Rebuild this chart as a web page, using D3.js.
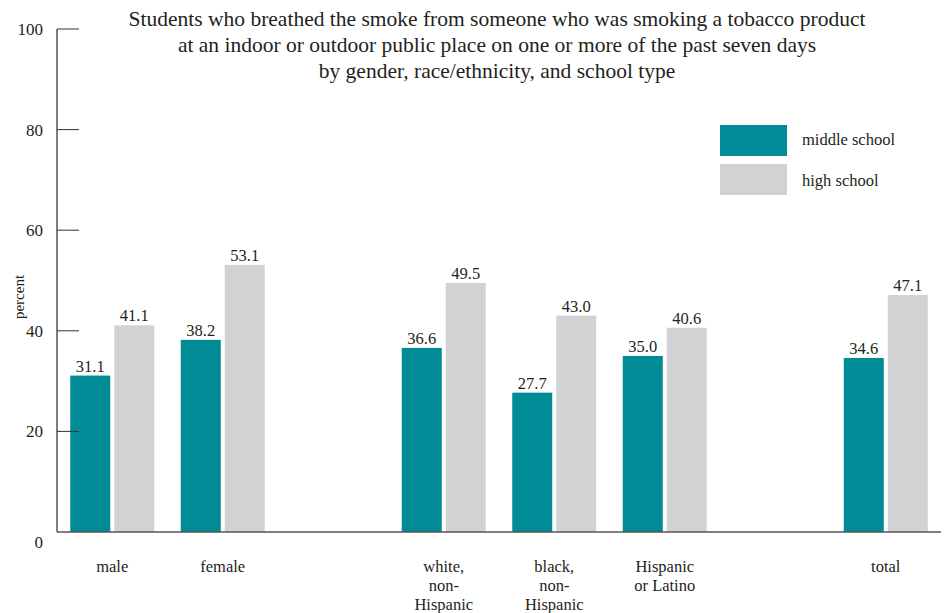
<!DOCTYPE html>
<html><head><meta charset="utf-8">
<script src="https://cdn.jsdelivr.net/npm/d3@7"></script>
<style>
body{margin:0;background:#fff;}
text{font-family:"Liberation Serif","DejaVu Serif",serif;fill:#231f20;}
</style></head>
<body><svg id="c" width="946" height="613"></svg>
<script>
const categories = ["male","female","","white, non- Hispanic","black, non- Hispanic","Hispanic or Latino"," ","total"];
const categoryLines = [["male"],["female"],[],["white,","non-","Hispanic"],["black,","non-","Hispanic"],["Hispanic","or Latino"],[],["total"]];
const middleSchool = [31.1, 38.2, null, 36.6, 27.7, 35.0, null, 34.6];
const highSchool = [41.1, 53.1, null, 49.5, 43.0, 40.6, null, 47.1];
const seriesNames = ["middle school","high school"];
const yTicks = [0,20,40,60,80,100];
const titleLines = ["Students who breathed the smoke from someone who was smoking a tobacco product",
  "at an indoor or outdoor public place on one or more of the past seven days",
  "by gender, race/ethnicity, and school type"];

const colors = ["#008b96","#d1d2d4"];
const svg = d3.select("#c");
const x0 = 57, x1 = 941, yBase = 532, yTop = 29;
const x = d3.scaleBand().domain(categories).range([x0,x1]).paddingInner(0).paddingOuter(0);
const y = d3.scaleLinear().domain([0,100]).range([yBase,yTop]);
const barW = 40, gap = 4;
const groupW = barW*2+gap;

// bars
const series = [middleSchool, highSchool];
series.forEach((vals, si) => {
  const g = svg.append("g");
  categories.forEach((c, i) => {
    const v = vals[i];
    if (v == null) return;
    const bx = x(c) + (x.bandwidth()-groupW)/2 + si*(barW+gap);
    g.append("rect").attr("x", bx).attr("y", y(v)).attr("width", barW).attr("height", yBase - y(v)).attr("fill", colors[si]);
    g.append("text").attr("x", bx + barW/2).attr("y", y(v) - 4).attr("text-anchor","middle")
      .attr("font-size", 16.5).text(v.toFixed(1));
  });
});

// axes
svg.append("line").attr("x1", x0).attr("x2", x1).attr("y1", yBase).attr("y2", yBase).attr("stroke","#555").attr("stroke-width",1.5);
svg.append("line").attr("x1", x0).attr("x2", x0).attr("y1", yTop).attr("y2", yBase).attr("stroke","#555").attr("stroke-width",1.5);
yTicks.forEach(t => {
  if (t > 0) svg.append("line").attr("x1", x0).attr("x2", x0+22).attr("y1", y(t)).attr("y2", y(t)).attr("stroke","#333").attr("stroke-width",1);
  svg.append("text").attr("x", 43).attr("y", y(t) + (t===0 ? 16 : 6)).attr("text-anchor","end").attr("font-size",17).text(t);
});

// category labels
categories.forEach((c, i) => {
  const lines = categoryLines[i];
  lines.forEach((l, li) => {
    svg.append("text").attr("x", x(c) + x.bandwidth()/2).attr("y", 572 + li*19).attr("text-anchor","middle").attr("font-size",16.5).text(l);
  });
});

// y label
svg.append("text").attr("transform","translate(24,297) rotate(-90)").attr("text-anchor","middle").attr("font-size",15).text("percent");

// title
titleLines.forEach((t, i) => {
  svg.append("text").attr("x", 497).attr("y", 26 + i*26).attr("text-anchor","middle").attr("font-size",21.5).text(t);
});

// legend
seriesNames.forEach((s, i) => {
  svg.append("rect").attr("x", 720).attr("y", 125 + i*39).attr("width", 67).attr("height", 31).attr("fill", colors[i]);
  svg.append("text").attr("x", 802).attr("y", 145 + i*41).attr("font-size",16.5).text(s);
});
</script></body></html>
